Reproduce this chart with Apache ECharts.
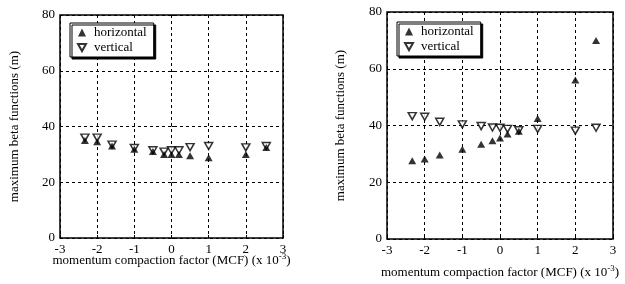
<!DOCTYPE html>
<html>
<head>
<meta charset="utf-8">
<script src="https://cdn.jsdelivr.net/npm/echarts@6/dist/echarts.min.js"></script>
<style>
	html, body { margin: 0; padding: 0; background: #fff; }
	#chart { width: 625px; height: 284px; }
</style>
</head>
<body>
<div id="chart"></div>
<script>
// MCF values (x 10^-3)
var mcf = [-2.33, -2, -1.6, -1, -0.5, -0.2, 0, 0.2, 0.5, 1, 2, 2.55];

// left panel
var leftHor = [35, 34.5, 33, 31.8, 31, 30, 30, 30, 29.5, 28.8, 30, 32.5];
var leftVer = [36, 36, 33.5, 32.3, 31.5, 31, 31.5, 31.5, 32.6, 33, 32.5, 33];

// right panel
var rightHor = [27.6, 28.2, 29.6, 31.6, 33.4, 34.6, 35.6, 37, 38, 42.5, 56, 70];
var rightVer = [43.3, 43.1, 41.3, 40.4, 39.8, 39.3, 39.2, 38.8, 38.3, 38.8, 38.2, 39.2];

var xTicks = [-3, -2, -1, 0, 1, 2, 3];
var yTicks = [0, 20, 40, 60, 80];

window.onload = function () {

	var chart = echarts.init(document.getElementById('chart'));
	var font = 'Liberation Serif';
	var ink = '#000';
	var downTri = 'path://M0,0 L10,0 L5,9 Z';

	function pairs(xs, ys) {
		var out = [];
		for (var i = 0; i < xs.length; i++) {
			out.push([xs[i], ys[i]]);
		}
		return out;
	}

	function xAxis(idx, gap) {
		return {
			type: 'value', gridIndex: idx,
			min: xTicks[0], max: xTicks[xTicks.length - 1], interval: 1,
			name: 'momentum compaction factor (MCF) (x 10{sup|-3})',
			nameLocation: 'middle', nameGap: gap, nameMoveOverlap: false,
			nameTextStyle: {
				fontFamily: font, fontSize: 13, color: ink,
				rich: { sup: { fontFamily: font, fontSize: 9, color: ink, padding: [0, 0, 8, 0] } }
			},
			axisLine: { show: false },
			axisTick: { show: true, inside: true, length: 3, lineStyle: { color: ink } },
			axisLabel: { fontFamily: font, fontSize: 13, color: ink, margin: 5 },
			splitLine: { show: true, lineStyle: { color: ink, type: [3, 3], width: 1 } }
		};
	}

	function yAxis(idx, gap) {
		return {
			type: 'value', gridIndex: idx,
			min: yTicks[0], max: yTicks[yTicks.length - 1], interval: 20,
			name: 'maximum beta functions (m)',
			nameLocation: 'middle', nameGap: gap, nameMoveOverlap: false,
			nameTextStyle: { fontFamily: font, fontSize: 13, color: ink },
			axisLine: { show: false },
			axisTick: { show: true, inside: true, length: 3, lineStyle: { color: ink } },
			axisLabel: { fontFamily: font, fontSize: 13, color: ink, margin: 5 },
			splitLine: { show: true, lineStyle: { color: ink, type: [3, 3], width: 1 } }
		};
	}

	function legend(left, top) {
		return {
			left: left, top: top, orient: 'vertical',
			data: ['horizontal', 'vertical'],
			backgroundColor: '#fff', borderColor: ink, borderWidth: 1,
			shadowColor: ink, shadowBlur: 0, shadowOffsetX: 2, shadowOffsetY: 2,
			padding: [3, 7, 3, 7], itemGap: 2, itemWidth: 8, itemHeight: 8,
			textStyle: { fontFamily: font, fontSize: 13, color: ink, padding: [0, 0, 0, 3] }
		};
	}

	function verSeries(idx, data) {
		return {
			name: 'vertical', type: 'scatter', xAxisIndex: idx, yAxisIndex: idx,
			symbol: downTri, symbolSize: [8, 7],
			itemStyle: { color: '#fff', borderColor: ink, borderWidth: 1.5 },
			data: pairs(mcf, data)
		};
	}

	function horSeries(idx, data) {
		return {
			name: 'horizontal', type: 'scatter', xAxisIndex: idx, yAxisIndex: idx,
			symbol: 'triangle', symbolSize: [8, 7],
			itemStyle: { color: ink },
			data: pairs(mcf, data)
		};
	}

	var option = {
		animation: false,
		backgroundColor: '#fff',
		grid: [
			{ left: 60, top: 15, width: 223, height: 223, show: true, borderColor: ink, borderWidth: 1.5 },
			{ left: 387, top: 12, width: 226, height: 227, show: true, borderColor: ink, borderWidth: 1.5 }
		],
		xAxis: [xAxis(0, 14), xAxis(1, 25)],
		yAxis: [yAxis(0, 39), yAxis(1, 40)],
		legend: [legend(70, 23), legend(397, 22)],
		series: [
			verSeries(0, leftVer),
			horSeries(0, leftHor),
			verSeries(1, rightVer),
			horSeries(1, rightHor)
		]
	};

	chart.setOption(option);
};
</script>
</body>
</html>
